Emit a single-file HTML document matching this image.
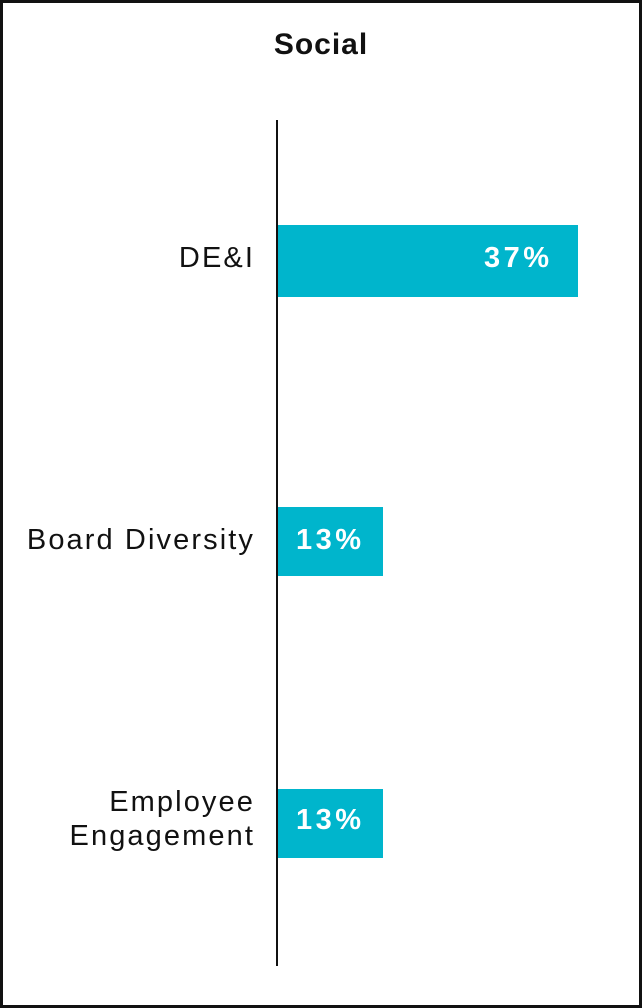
<!DOCTYPE html>
<html><head><style>
html,body{margin:0;padding:0;background:#fff;}
.frame{position:absolute;left:0;top:0;width:636px;height:1002px;border:3px solid #111;}
.t{position:absolute;font-family:"Liberation Sans",sans-serif;}
.title{left:0;width:642px;top:28px;text-align:center;font-weight:bold;font-size:30px;color:#111;letter-spacing:1px;}
.axis{position:absolute;left:276px;top:120px;width:2px;height:846px;background:#111;}
.bar{position:absolute;left:278px;background:#00b5cc;}
.val{color:#fff;font-weight:bold;font-size:29px;letter-spacing:3.5px;}
.lab{right:387px;text-align:right;font-size:29px;color:#111;line-height:34px;letter-spacing:2.1px;}
</style></head><body>
<div class="frame"></div>
<div class="t title">Social</div>
<div class="axis"></div>
<div class="bar" style="top:225px;width:300px;height:72px"></div>
<div class="t val" style="left:484px;top:242px">37%</div>
<div class="bar" style="top:507px;width:105px;height:69px"></div>
<div class="t val" style="left:296px;top:524px">13%</div>
<div class="bar" style="top:789px;width:105px;height:69px"></div>
<div class="t val" style="left:296px;top:804px">13%</div>
<div class="t lab" style="top:241px">DE&amp;I</div>
<div class="t lab" style="top:523px">Board Diversity</div>
<div class="t lab" style="top:785px">Employee<br>Engagement</div>
</body></html>
